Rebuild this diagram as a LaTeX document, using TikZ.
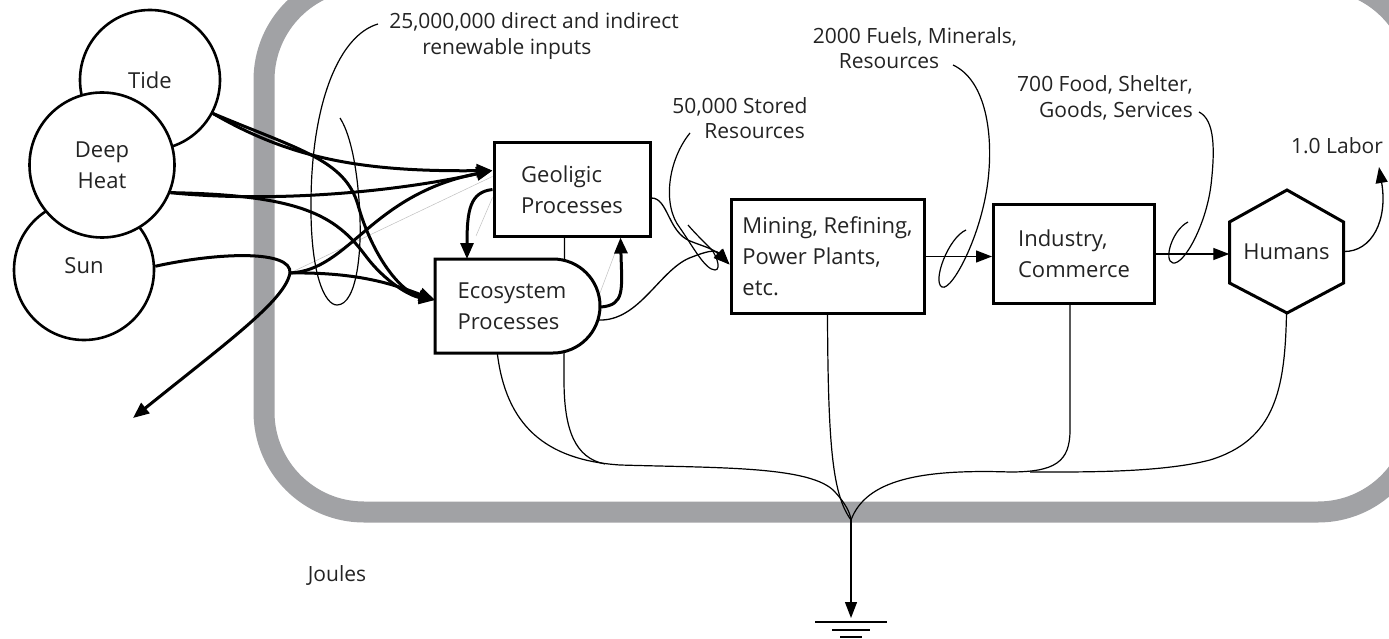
\documentclass[tikz,border=0pt]{standalone}
\usepackage{fontspec}
\setmainfont{Open Sans}
\usetikzlibrary{arrows.meta,calc}
\definecolor{framegray}{RGB}{161,162,165}
\definecolor{txt}{RGB}{35,35,35}
\newcommand\boxfont{\fontsize{22}{31}\selectfont}
\newcommand\labfont{\fontsize{21}{25.5}\selectfont}
\pgfdeclarelayer{bg}
\pgfsetlayers{bg,main}
\begin{document}
\begin{tikzpicture}[x=1pt,y=-1pt,
  thickarr/.style={line width=3pt,-{Triangle[length=16pt,width=13pt]}},
  thickline/.style={line width=3pt},
  thinarr/.style={line width=1.3pt,-{Triangle[length=16pt,width=12pt]}},
  thinline/.style={line width=1.2pt},
  faint/.style={line width=0.5pt,draw=black!25},
  boxst/.style={draw,line width=3pt,fill=white,inner sep=0pt,font=\boxfont,align=left,text=txt},
  circst/.style={circle,draw,line width=2.6pt,fill=white,inner sep=0pt,font=\boxfont,align=center,text=txt},
  lab/.style={font=\labfont,text=txt,inner sep=0pt}]
\useasboundingbox (0,0) rectangle (1389,639);
\begin{pgfonlayer}{bg}
\begin{scope}
\clip (0,0) rectangle (1389,639);
\draw[framegray,line width=21pt,rounded corners=100pt] (264,-20) rectangle (1418,512);
\end{scope}
\end{pgfonlayer}
% sources
\node[circst,minimum size=140pt] (tide) at (150,80) {Tide};
\node[circst,minimum size=140pt,text depth=8pt] (sun) at (84,270) {Sun};
\node[circst,minimum size=145pt] (deep) at (102,165) {Deep\\Heat};
% boxes
\node[boxst,minimum width=156pt,minimum height=93pt] (geo) at (572,189.5) {Geoligic\\Processes};
\node[boxst,minimum width=193pt,minimum height=113pt] (mine) at (827.5,256.5) {Mining, Refining,\\Power Plants,\\etc.};
\node[boxst,minimum width=161pt,minimum height=98pt] (ind) at (1074,254) {Industry,\\Commerce};
% geologic heat line behind ecosystem
\begin{pgfonlayer}{bg}
\draw[thinline] ([xshift=72pt]geo.south west) -- (564,380) .. controls (564,430) and (575,458) .. (605,464);
\end{pgfonlayer}
% ecosystem producer shape
\draw[line width=3pt,fill=white] (435,259) -- (553,259) arc[start angle=90,end angle=-90,radius=47pt] -- (435,353) -- cycle;
\node[inner sep=0pt,minimum width=165pt,minimum height=94pt,font=\boxfont,align=left,text=txt] (eco) at (512,306) {Ecosystem\\Processes};
% humans hexagon
\draw[line width=3pt,fill=white] (1287,190) -- (1343.5,222) -- (1343.5,283) -- (1287,313) -- (1229.5,283) -- (1229.5,222) -- cycle;
\node[inner sep=0pt,minimum width=114pt,minimum height=123pt,font=\boxfont,text=txt] (hum) at (1286.5,251.5) {Humans};
% coordinates
\coordinate (gin) at ([yshift=-29pt]geo.north west);
\coordinate (ein) at (435,300);
\coordinate (min) at ([yshift=-8pt]mine.west);
\coordinate (S) at (290,273);
\coordinate (sunout) at (133,418);
\coordinate (J) at (851,520);
\coordinate (gnd) at (851,618);
\coordinate (lab) at (1379,167);
\coordinate (eo) at (598,320);
\coordinate (etop) at (467,259);
\coordinate (ert) at (601,307);
% faint lines
\draw[faint] (S) -- ([yshift=-6pt]gin);
\draw[faint] ([yshift=-8pt]geo.west) -- (476,236);
\draw[faint] (600,293) -- (618,245);
% renewable inputs
\draw[thickarr] (tide.-28) .. controls (290,158) and (360,172) .. (gin);
\draw[thickarr] (tide.-28) .. controls (300,150) and (345,160) .. (358,205) .. controls (372,255) and (400,292) .. (ein);
\draw[thickarr] (deep.-22) .. controls (260,202) and (380,195) .. (gin);
\draw[thickarr] (deep.-22) .. controls (300,195) and (335,215) .. (365,255) .. controls (385,282) and (410,296) .. (ein);
\draw[thickline] (sun.3) .. controls (220,252) and (292,250) .. (S);
\draw[thickarr] (S) .. controls (285,300) and (230,340) .. (sunout);
\draw[thickarr] (S) .. controls (360,272) and (395,285) .. (ein);
\draw[thickarr] (S) .. controls (350,270) and (370,195) .. (gin);
% interactions
\draw[thickarr] (geo.west) .. controls (470,192) and (467,210) .. (etop);
\draw[thickarr] (ert) .. controls (625,305) and (622,290) .. ([xshift=128pt]geo.south west);
\draw[thinarr] ([yshift=-8.5pt]geo.east) .. controls (668,198) and (668,232) .. (690,241) .. controls (702,246) and (712,248) .. (min);
\draw[thinarr] (eo) .. controls (640,322) and (660,268) .. (692,257) .. controls (705,252) and (715,249) .. (min);
\draw[thinarr] (mine.east) -- (mine.east -| ind.west);
\draw[thinarr] (ind.east) -- (ind.east -| hum.west);
\draw[thinarr] (hum.east) .. controls (1372,252) and (1388,220) .. (lab);
% emergy loops
\coordinate (c25) at (378,24);
\draw[thinline] (c25) .. controls (340,35) and (312,100) .. (311,200) .. controls (310,275) and (325,305) .. (337,305) .. controls (357,305) and (363,250) .. (359,200) .. controls (356,160) and (349,132) .. (340,118);
\coordinate (c50) at (690,133);
\draw[thinline] (c50) .. controls (668,160) and (662,205) .. (680,228) .. controls (692,245) and (705,270) .. (715,270) .. controls (722,270) and (716,252) .. (708,246) .. controls (700,238) and (694,232) .. (688,225);
\coordinate (c2000) at (953,65);
\draw[thinline] (c2000) .. controls (985,80) and (992,130) .. (989,170) .. controls (985,230) and (952,292) .. (942,287) .. controls (932,282) and (948,238) .. (966,230);
\coordinate (c700) at (1199,112);
\draw[thinline] (c700) .. controls (1215,120) and (1215,150) .. (1211,185) .. controls (1206,225) and (1184,265) .. (1173,263) .. controls (1163,261) and (1172,230) .. (1188,222);
% heat sink
\draw[thinline] ([xshift=68pt]eco.south west) .. controls (506,425) and (545,460) .. (620,465) .. controls (720,468) and (812,466) .. (835,492) .. controls (845,503) and (850,512) .. (J);
\draw[thinline] (mine.south) .. controls (828,450) and (833,495) .. (J);
\draw[thinline] ([xshift=-4pt]ind.south) -- (1070,430) .. controls (1070,462) and (1055,472) .. (1010,472) .. controls (920,469) and (866,480) .. (J);
\draw[thinline] (hum.south) .. controls (1285,390) and (1275,440) .. (1210,460) .. controls (1160,473) and (1080,472) .. (1030,472);
\draw[thinarr] (J) -- (gnd);
\draw[line width=2pt] ($(gnd)+(-36,4)$) -- ($(gnd)+(36,4)$);
\draw[line width=2pt] ($(gnd)+(-19,12)$) -- ($(gnd)+(19,12)$);
\draw[line width=2pt] ($(gnd)+(-11,19)$) -- ($(gnd)+(11,19)$);
% labels
\node[lab,align=left] (l25) at (534,36) {25,000,000 direct and indirect\\\hspace*{33pt}renewable inputs};
\node[lab,align=left] (l50) at (740,118) {50,000 Stored\\\hspace*{32pt}Resources};
\node[lab,align=left] (l2000) at (915,48) {2000 Fuels, Minerals,\\\hspace*{26pt}Resources};
\node[lab,align=right,anchor=east] (l700) at (1193,98) {700 Food, Shelter,\\Goods, Services};
\node[lab] (llab) at (1337,146) {1.0 Labor};
\node[lab] (lj) at (337,575) {Joules};
\end{tikzpicture}
\end{document}
